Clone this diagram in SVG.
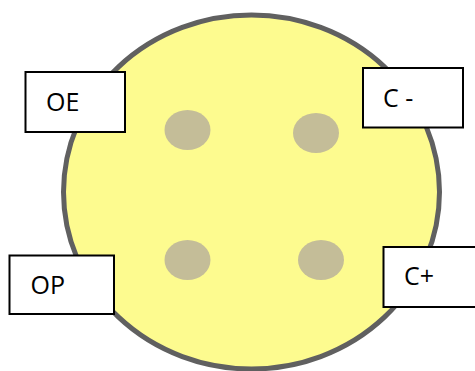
<svg xmlns="http://www.w3.org/2000/svg" width="475" height="371" viewBox="0 0 475 371">
<style>
.lbl{fill:#fff;stroke:#000;stroke-width:2}
.dot{fill:#c4bd98}
text{font-family:"Open Sans","Noto Sans",sans-serif;font-size:25px;fill:#000}
</style>
<rect width="475" height="371" fill="#fff"/>
<g id="disc">
<ellipse cx="251.5" cy="192" rx="188" ry="177" fill="#fdfb8f" stroke="#606060" stroke-width="5"/>
<ellipse class="dot" cx="187.5" cy="130" rx="23" ry="20"/>
<ellipse class="dot" cx="316" cy="133" rx="23" ry="20"/>
<ellipse class="dot" cx="187.5" cy="260" rx="23" ry="20"/>
<ellipse class="dot" cx="321" cy="260" rx="23" ry="20"/>
</g>
<g id="OE"><rect class="lbl" x="25.5" y="72" width="99.5" height="60"/><text x="46" y="110.5">OE</text></g>
<g id="Cminus"><rect class="lbl" x="363" y="68" width="100" height="59.5"/><text x="383" y="106.5">C -</text></g>
<g id="OP"><rect class="lbl" x="9.5" y="255.5" width="104.5" height="58.5"/><text x="30.5" y="294">OP</text></g>
<g id="Cplus"><rect class="lbl" x="383.5" y="247" width="100" height="60"/><text x="404" y="285">C+</text></g>
</svg>
